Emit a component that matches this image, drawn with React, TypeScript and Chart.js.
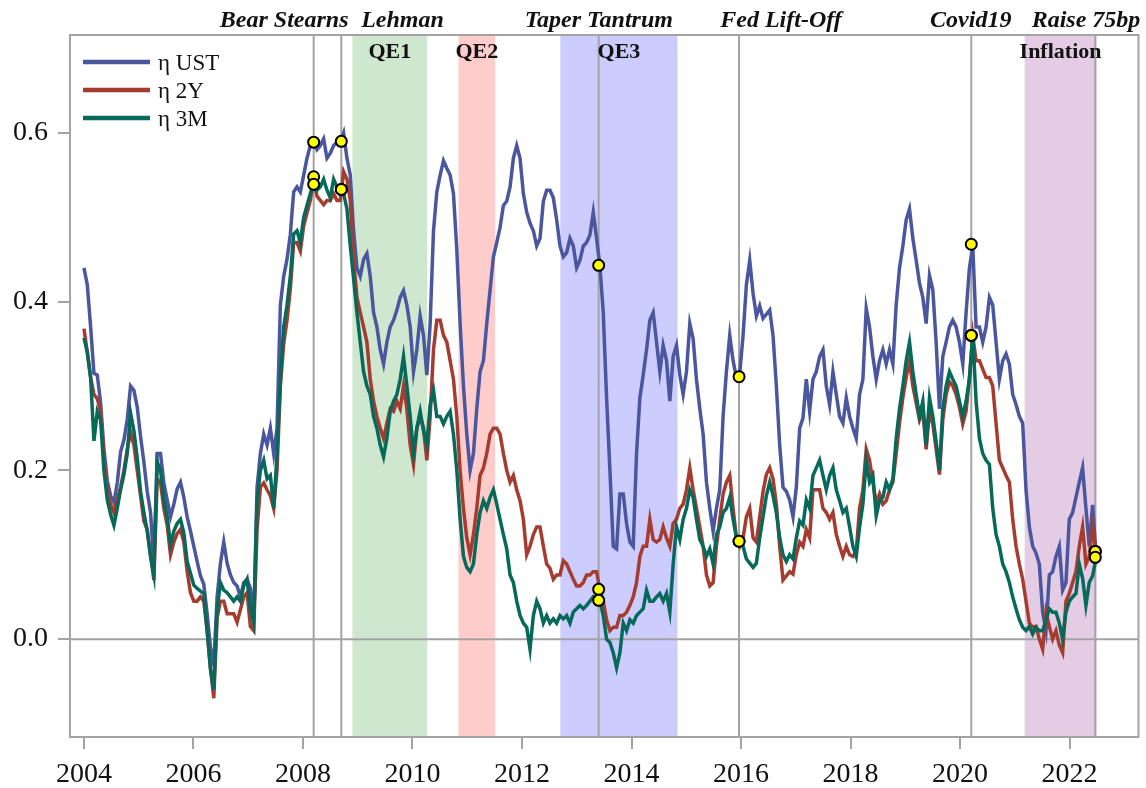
import React, { useEffect, useRef } from "react";
import { Chart, registerables } from "chart.js";
Chart.register(...registerables);

// sampling grid: first sample at 2004.0, one sample every STEP years
const START_YEAR = 2004;
const STEP = 0.060794;

const UST = [
  0.44, 0.42, 0.37, 0.315, 0.313, 0.28, 0.225, 0.188, 0.17, 0.162,
  0.185, 0.222, 0.236, 0.26, 0.3, 0.295, 0.275, 0.24, 0.21, 0.175,
  0.15, 0.09, 0.22, 0.22, 0.185, 0.165, 0.145, 0.16, 0.178, 0.186,
  0.168, 0.145, 0.128, 0.11, 0.092, 0.075, 0.065, 0.03, -0.01, -0.03,
  0.05, 0.09, 0.115, 0.09, 0.076, 0.067, 0.063, 0.05, 0.067, 0.071,
  0.06,
  0.023, 0.18, 0.22, 0.243, 0.23, 0.25, 0.22, 0.25, 0.396, 0.43,
  0.45, 0.48, 0.53, 0.536, 0.53, 0.55, 0.57, 0.585, 0.589, 0.58,
  0.585, 0.593, 0.57, 0.576, 0.585, 0.589, 0.589, 0.6, 0.57, 0.55,
  0.484, 0.44, 0.43, 0.45, 0.457, 0.43, 0.387, 0.37, 0.343, 0.326,
  0.352, 0.37, 0.378, 0.39, 0.405, 0.413, 0.396, 0.37, 0.317, 0.343,
  0.383, 0.36, 0.313, 0.374, 0.484, 0.53,
  0.55, 0.567, 0.558, 0.55, 0.528, 0.462, 0.374, 0.3, 0.243, 0.2,
  0.22, 0.273, 0.317, 0.33, 0.374, 0.414, 0.453, 0.47, 0.488, 0.514,
  0.519, 0.536, 0.57, 0.585, 0.57, 0.528, 0.506, 0.493, 0.484, 0.466,
  0.475, 0.519, 0.532, 0.532, 0.523, 0.497, 0.466, 0.453, 0.458, 0.475,
  0.466, 0.44, 0.449, 0.466, 0.47, 0.479, 0.506, 0.475, 0.442, 0.387,
  0.286, 0.2, 0.11, 0.107, 0.172,
  0.172, 0.137, 0.115, 0.11, 0.22, 0.286, 0.313, 0.343, 0.378, 0.387,
  0.352, 0.317, 0.348, 0.33, 0.282, 0.335, 0.348, 0.313, 0.29, 0.317,
  0.374, 0.356, 0.308, 0.273, 0.243, 0.186, 0.155, 0.128, 0.155, 0.177,
  0.264, 0.317, 0.36, 0.33, 0.31, 0.315, 0.36, 0.42, 0.449, 0.41,
  0.383, 0.395, 0.38, 0.385, 0.39, 0.36, 0.3, 0.23, 0.18, 0.175,
  0.165, 0.145, 0.18, 0.25, 0.262, 0.308,
  0.27, 0.308, 0.317, 0.335, 0.343, 0.3, 0.278, 0.317, 0.29, 0.264,
  0.256, 0.286, 0.264, 0.25, 0.238, 0.29, 0.308, 0.392, 0.37, 0.335,
  0.308, 0.33, 0.343, 0.326, 0.343, 0.326, 0.396, 0.44, 0.466, 0.497,
  0.51, 0.475, 0.449, 0.422, 0.405, 0.374, 0.431, 0.414, 0.352, 0.273,
  0.335, 0.352, 0.37, 0.378, 0.37, 0.352, 0.326, 0.387, 0.44, 0.466,
  0.37, 0.37, 0.352, 0.37,
  0.405, 0.396, 0.352, 0.308, 0.33, 0.338, 0.326, 0.29, 0.278, 0.264,
  0.256, 0.177, 0.133, 0.11, 0.102, 0.089, 0.032, 0.01, 0.076, 0.08,
  0.098, 0.11, 0.058, 0.067, 0.142, 0.15, 0.168, 0.186, 0.203, 0.155,
  0.11, 0.159, 0.102,
];

const Y2 = [
  0.368, 0.34, 0.31, 0.29, 0.285, 0.27, 0.215, 0.175, 0.16, 0.15,
  0.165, 0.18, 0.2, 0.225, 0.245, 0.23, 0.2, 0.17, 0.14, 0.13,
  0.1, 0.07, 0.19, 0.185, 0.155, 0.135, 0.1, 0.115, 0.125, 0.13,
  0.115, 0.08, 0.055, 0.045, 0.045, 0.05, 0.045, 0.01, -0.035, -0.07,
  0.025, 0.045, 0.045, 0.03, 0.03, 0.03, 0.02, 0.035, 0.05, 0.055,
  0.015,
  0.01, 0.13, 0.18, 0.185, 0.177, 0.17, 0.155, 0.2, 0.3, 0.35,
  0.378, 0.415, 0.47, 0.47, 0.46, 0.49, 0.505, 0.52, 0.545, 0.525,
  0.52, 0.515, 0.52, 0.52, 0.528, 0.52, 0.52, 0.554, 0.545, 0.52,
  0.45, 0.405, 0.387, 0.37, 0.352, 0.308, 0.282, 0.264, 0.25, 0.238,
  0.256, 0.273, 0.27, 0.282, 0.273, 0.3, 0.273, 0.23, 0.207, 0.25,
  0.264, 0.25, 0.212, 0.264, 0.343, 0.378,
  0.378, 0.36, 0.352, 0.33, 0.308, 0.264, 0.2, 0.155, 0.12, 0.1,
  0.124, 0.155, 0.194, 0.203, 0.22, 0.243, 0.25, 0.25, 0.243, 0.22,
  0.2, 0.186, 0.194, 0.177, 0.164, 0.142, 0.1, 0.11, 0.124, 0.133,
  0.133, 0.11, 0.089, 0.084, 0.071, 0.076, 0.076, 0.093, 0.089, 0.08,
  0.071, 0.063, 0.063, 0.067, 0.076, 0.076, 0.08, 0.08, 0.058, 0.045,
  0.023, 0.01, 0.014, 0.014, 0.028,
  0.028, 0.032, 0.04, 0.05, 0.067, 0.098, 0.11, 0.11, 0.142, 0.118,
  0.115, 0.118, 0.133, 0.12, 0.11, 0.137, 0.142, 0.155, 0.16, 0.177,
  0.203, 0.177, 0.155, 0.133, 0.11, 0.076, 0.063, 0.067, 0.11, 0.142,
  0.172, 0.186, 0.194, 0.155, 0.12, 0.11, 0.12, 0.145, 0.155, 0.12,
  0.115, 0.145, 0.175, 0.195, 0.203, 0.19, 0.16, 0.11, 0.07, 0.075,
  0.08, 0.077, 0.1, 0.115, 0.11, 0.13,
  0.12, 0.177, 0.177, 0.177, 0.155, 0.15, 0.142, 0.15, 0.124, 0.11,
  0.098, 0.11, 0.1, 0.098, 0.105, 0.155, 0.177, 0.225, 0.212, 0.186,
  0.16, 0.172, 0.16, 0.164, 0.177, 0.186, 0.22, 0.256, 0.286, 0.31,
  0.33, 0.3, 0.28, 0.26, 0.27, 0.225, 0.27, 0.255, 0.225, 0.195,
  0.26, 0.29, 0.305, 0.3, 0.29, 0.275, 0.255, 0.27, 0.31, 0.36,
  0.33, 0.33, 0.32, 0.31,
  0.31, 0.3, 0.256, 0.212, 0.203, 0.194, 0.186, 0.142, 0.11, 0.089,
  0.071, 0.045, 0.019, 0.014, 0.015, 0.0, -0.012, 0.032, 0.015, 0.0,
  0.01, -0.007, -0.016, 0.045, 0.054, 0.067, 0.08, 0.11, 0.133, 0.089,
  0.098, 0.133, 0.105,
];

const M3 = [
  0.357, 0.34, 0.31, 0.235, 0.27, 0.26, 0.2, 0.165, 0.148, 0.135,
  0.155, 0.177, 0.195, 0.22, 0.268, 0.247, 0.215, 0.175, 0.15, 0.128,
  0.098, 0.076, 0.21, 0.2, 0.165, 0.145, 0.112, 0.128, 0.137, 0.142,
  0.126, 0.092, 0.078, 0.064, 0.06, 0.057, 0.054, 0.01, -0.035, -0.06,
  0.035, 0.067, 0.058, 0.055, 0.05, 0.045, 0.05, 0.045, 0.063, 0.071,
  0.035,
  0.019, 0.165, 0.2, 0.212, 0.19, 0.194, 0.155, 0.22, 0.308, 0.37,
  0.396, 0.43, 0.48, 0.484, 0.47, 0.5, 0.514, 0.528, 0.54, 0.532,
  0.536, 0.545, 0.532, 0.523, 0.545, 0.536, 0.532, 0.528, 0.51, 0.466,
  0.427, 0.387, 0.352, 0.317, 0.3, 0.29, 0.264, 0.25, 0.23, 0.216,
  0.238, 0.27, 0.282, 0.29, 0.308, 0.335, 0.3, 0.264, 0.22, 0.25,
  0.27, 0.247, 0.23, 0.278, 0.295, 0.264,
  0.264, 0.255, 0.264, 0.27, 0.243, 0.2, 0.142, 0.098, 0.085, 0.08,
  0.089, 0.124, 0.15, 0.164, 0.155, 0.168, 0.177, 0.16, 0.142, 0.124,
  0.107, 0.076, 0.067, 0.045, 0.028, 0.019, 0.014, -0.012, 0.028, 0.045,
  0.036, 0.019, 0.028, 0.019, 0.024, 0.019, 0.028, 0.024, 0.028, 0.019,
  0.032, 0.036, 0.04, 0.036, 0.04, 0.045, 0.05, 0.045, 0.045, 0.028,
  0.0, -0.004, -0.016, -0.034, -0.016,
  0.019, 0.01, 0.023, 0.019, 0.028, 0.032, 0.036, 0.058, 0.045, 0.045,
  0.05, 0.054, 0.045, 0.054, 0.032, 0.089, 0.133, 0.118, 0.142, 0.155,
  0.177, 0.168, 0.142, 0.118, 0.11, 0.098, 0.107, 0.089, 0.124, 0.133,
  0.15, 0.155, 0.168, 0.142, 0.12, 0.115, 0.11, 0.095, 0.09, 0.085,
  0.09, 0.12, 0.145, 0.17, 0.186, 0.17, 0.15, 0.12, 0.1, 0.092,
  0.1, 0.095, 0.12, 0.14, 0.135, 0.165,
  0.155, 0.194, 0.203, 0.212, 0.194, 0.177, 0.194, 0.203, 0.177, 0.164,
  0.15, 0.155, 0.133, 0.11, 0.098, 0.133, 0.16, 0.212, 0.186, 0.194,
  0.146, 0.164, 0.168, 0.186, 0.177, 0.19, 0.238, 0.273, 0.3, 0.33,
  0.352, 0.317, 0.29, 0.264, 0.282, 0.23, 0.286, 0.264, 0.234, 0.2,
  0.273, 0.3, 0.317, 0.308, 0.3, 0.282, 0.264, 0.282, 0.308, 0.361,
  0.282, 0.238, 0.22, 0.212,
  0.207, 0.155, 0.124, 0.11, 0.089, 0.08, 0.067, 0.05, 0.036, 0.023,
  0.014, 0.01, 0.015, 0.006, 0.014, 0.01, 0.01, 0.023, 0.036, 0.032,
  0.032, 0.019, 0.0, 0.032, 0.045, 0.05, 0.054, 0.089, 0.072, 0.04,
  0.067, 0.075, 0.095,
];

const SERIES_LABELS = ["η UST", "η 2Y", "η 3M"];
const SERIES_COLORS = ["#4a579e", "#a53c2f", "#07695a"];

const EVENT_NAMES = ["Bear Stearns", "Lehman", "Taper Tantrum", "Fed Lift-Off", "Covid19", "Raise 75bp"];
const EVENT_YEARS = [2008.195, 2008.7, 2013.4, 2015.964, 2020.205, 2022.47];
const EVENT_LABEL_YEARS = [2007.657, 2009.818, 2013.402, 2016.73, 2020.195, 2022.3];
const MARK_UST = [0.589, 0.59, 0.443, 0.311, 0.468, 0.104];
const MARK_2Y = [0.548, 0.533, 0.059, 0.116, 0.36, 0.104];
const MARK_3M = [0.539, 0.533, 0.046, 0.116, 0.36, 0.097];

const PERIOD_NAMES = ["QE1", "QE2", "QE3", "Inflation"];
const PERIOD_START = [2008.902, 2010.84, 2012.7, 2021.18];
const PERIOD_END = [2010.27, 2011.51, 2014.84, 2022.49];
const PERIOD_COLORS = ["#cfe6cf", "#ffcccc", "#ccccff", "#e4cce4"];

const X_TICKS = [2004, 2006, 2008, 2010, 2012, 2014, 2016, 2018, 2020, 2022];
const Y_TICKS = [0, 0.2, 0.4, 0.6];
const X_MIN = 2003.745;
const X_MAX = 2023.259;
const Y_MIN = -0.116;
const Y_MAX = 0.716;

const GREY = "#a3a3a3";
const SERIF = "'Liberation Serif', 'Times New Roman', serif";

const toPoints = (vals: number[]) => vals.map((v, i) => ({ x: START_YEAR + i * STEP, y: v }));

const overlay = {
  id: "overlay",
  beforeDatasetsDraw(chart: any) {
    const { ctx, chartArea: a, scales } = chart;
    const xs = scales.x;
    const ys = scales.y;
    ctx.save();
    ctx.beginPath();
    ctx.rect(a.left, a.top, a.right - a.left, a.bottom - a.top);
    ctx.clip();
    PERIOD_START.forEach((s, i) => {
      const x0 = xs.getPixelForValue(s);
      const x1 = xs.getPixelForValue(PERIOD_END[i]);
      ctx.fillStyle = PERIOD_COLORS[i];
      ctx.fillRect(x0, a.top, x1 - x0, a.bottom - a.top);
    });
    ctx.strokeStyle = GREY;
    ctx.lineWidth = 2;
    EVENT_YEARS.forEach((e) => {
      const x = xs.getPixelForValue(e);
      ctx.beginPath();
      ctx.moveTo(x, a.top);
      ctx.lineTo(x, a.bottom);
      ctx.stroke();
    });
    const y0 = ys.getPixelForValue(0);
    ctx.beginPath();
    ctx.moveTo(a.left, y0);
    ctx.lineTo(a.right, y0);
    ctx.stroke();
    ctx.restore();
  },
  afterDraw(chart: any) {
    const { ctx, chartArea: a, scales } = chart;
    const xs = scales.x;
    ctx.save();
    ctx.strokeStyle = GREY;
    ctx.lineWidth = 2;
    ctx.strokeRect(a.left, a.top, a.right - a.left, a.bottom - a.top);

    // legend
    ctx.textAlign = "left";
    ctx.textBaseline = "alphabetic";
    ctx.font = `23px ${SERIF}`;
    SERIES_LABELS.forEach((lab, i) => {
      const yy = a.top + 27 + i * 28;
      ctx.strokeStyle = SERIES_COLORS[i];
      ctx.lineWidth = 4.5;
      ctx.beginPath();
      ctx.moveTo(a.left + 13, yy);
      ctx.lineTo(a.left + 80, yy);
      ctx.stroke();
      ctx.fillStyle = "#111";
      ctx.fillText(lab, a.left + 88, yy + 7.5);
    });

    // event labels
    ctx.fillStyle = "#111";
    ctx.textAlign = "center";
    ctx.font = `italic bold 24px ${SERIF}`;
    EVENT_NAMES.forEach((n, i) => {
      ctx.fillText(n, xs.getPixelForValue(EVENT_LABEL_YEARS[i]), a.top - 8);
    });

    // period labels
    ctx.font = `bold 22px ${SERIF}`;
    PERIOD_NAMES.forEach((n, i) => {
      const cx = (xs.getPixelForValue(PERIOD_START[i]) + xs.getPixelForValue(PERIOD_END[i])) / 2;
      ctx.fillText(n, cx, a.top + 23);
    });
    ctx.restore();
  },
};

export default function App() {
  const ref = useRef<HTMLCanvasElement | null>(null);
  useEffect(() => {
    if (!ref.current) return;
    const series = [UST, Y2, M3];
    const markers = [MARK_UST, MARK_2Y, MARK_3M];
    const markerData: { x: number; y: number }[] = [];
    markers.forEach((m) => m.forEach((v, i) => markerData.push({ x: EVENT_YEARS[i], y: v })));
    const chart = new Chart(ref.current, {
      type: "line",
      data: {
        datasets: [
          ...series.map((s, i) => ({
            label: SERIES_LABELS[i],
            data: toPoints(s),
            borderColor: SERIES_COLORS[i],
            backgroundColor: SERIES_COLORS[i],
            borderWidth: 3.5,
            pointRadius: 0,
            tension: 0,
            order: 3 - i,
          })),
          {
            label: "events",
            data: markerData,
            showLine: false,
            pointRadius: 5.5,
            pointBackgroundColor: "#ffff00",
            pointBorderColor: "#000",
            pointBorderWidth: 2,
            order: 0,
          } as any,
        ],
      },
      options: {
        animation: false,
        responsive: true,
        maintainAspectRatio: false,
        layout: { padding: { top: 35, right: 6, left: 0, bottom: 0 } },
        plugins: { legend: { display: false }, tooltip: { enabled: false } },
        scales: {
          x: {
            type: "linear",
            min: X_MIN,
            max: X_MAX,
            afterBuildTicks: (s: any) => {
              s.ticks = X_TICKS.map((v) => ({ value: v }));
            },
            afterFit: (s: any) => {
              s.height = 51;
            },
            ticks: {
              font: { family: SERIF, size: 28 },
              color: "#111",
              padding: 9,
              maxRotation: 0,
              autoSkip: false,
              callback: (v: any) => String(v),
            },
            grid: { display: true, drawOnChartArea: false, drawTicks: true, tickLength: 12, color: GREY, lineWidth: 2 },
            border: { display: false },
          },
          y: {
            type: "linear",
            min: Y_MIN,
            max: Y_MAX,
            afterBuildTicks: (s: any) => {
              s.ticks = Y_TICKS.map((v) => ({ value: v }));
            },
            afterFit: (s: any) => {
              s.width = 70;
            },
            ticks: {
              font: { family: SERIF, size: 28 },
              color: "#111",
              padding: 10,
              callback: (v: any) => Number(v).toFixed(1),
            },
            grid: { display: true, drawOnChartArea: false, drawTicks: true, tickLength: 12, color: GREY, lineWidth: 2 },
            border: { display: false },
          },
        },
      },
      plugins: [overlay],
    });
    return () => chart.destroy();
  }, []);
  return (
    <div style={{ position: "fixed", left: 0, top: 0, width: 1146, height: 788, background: "#fff" }}>
      <canvas ref={ref} />
    </div>
  );
}
